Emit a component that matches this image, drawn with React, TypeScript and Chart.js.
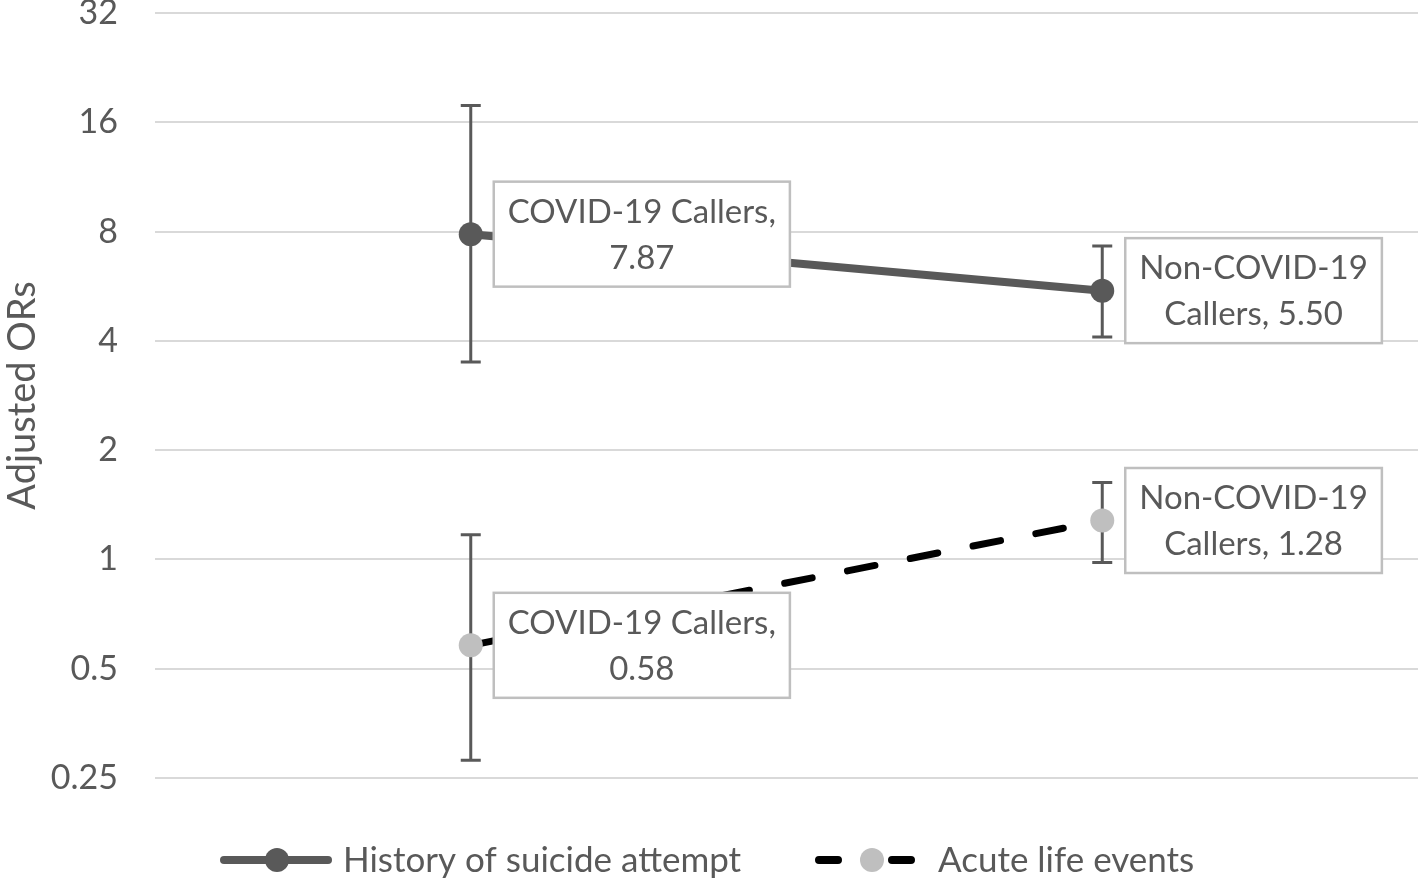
import React, { useEffect, useRef } from 'react';
import { Chart, registerables } from 'chart.js';

Chart.register(...registerables);

const categories = ['COVID-19 Callers', 'Non-COVID-19 Callers'];
const seriesNames = ['History of suicide attempt', 'Acute life events'];
const historyValues = [7.87, 5.5];
const historyLower = [3.5, 4.1];
const historyUpper = [17.8, 7.3];
const acuteValues = [0.58, 1.28];
const acuteLower = [0.28, 0.98];
const acuteUpper = [1.17, 1.63];
const yTicks = [0.25, 0.5, 1, 2, 4, 8, 16, 32];
const yTitle = 'Adjusted ORs';

const FONT = 'Lato, "Open Sans", sans-serif';
const TEXT = '#595959';
const FS_LABEL = 33;
const FS_TICK = 34;
const FS_LEGEND = 35;
const FS_TITLE = 38;

const lowers = [historyLower, acuteLower];
const uppers = [historyUpper, acuteUpper];
const valuesList = [historyValues, acuteValues];

function wrap(ctx: CanvasRenderingContext2D, text: string, maxW: number): string[] {
  const words = text.split(' ');
  const lines: string[] = [];
  let cur = '';
  for (const w of words) {
    const t = cur ? cur + ' ' + w : w;
    if (cur && ctx.measureText(t).width > maxW) {
      lines.push(cur);
      cur = w;
    } else cur = t;
  }
  if (cur) lines.push(cur);
  return lines;
}

const errorBarPlugin = {
  id: 'errorBars',
  beforeDatasetsDraw(chart: any) {
    const ctx = chart.ctx;
    const ys = chart.scales.y;
    ctx.save();
    ctx.strokeStyle = '#595959';
    ctx.lineWidth = 3;
    chart.data.datasets.forEach((_ds: any, di: number) => {
      const meta = chart.getDatasetMeta(di);
      meta.data.forEach((pt: any, i: number) => {
        const x = pt.x;
        const yl = ys.getPixelForValue(lowers[di][i]);
        const yh = ys.getPixelForValue(uppers[di][i]);
        ctx.beginPath();
        ctx.moveTo(x, yl);
        ctx.lineTo(x, yh);
        ctx.moveTo(x - 10, yl);
        ctx.lineTo(x + 10, yl);
        ctx.moveTo(x - 10, yh);
        ctx.lineTo(x + 10, yh);
        ctx.stroke();
      });
    });
    ctx.restore();
  },
};

const labelPlugin = {
  id: 'boxLabels',
  afterDatasetsDraw(chart: any) {
    const ctx = chart.ctx;
    ctx.save();
    ctx.font = `${FS_LABEL}px ${FONT}`;
    chart.data.datasets.forEach((_ds: any, di: number) => {
      const meta = chart.getDatasetMeta(di);
      meta.data.forEach((pt: any, i: number) => {
        const text = `${categories[i]}, ${valuesList[di][i].toFixed(2)}`;
        const lines = wrap(ctx, text, 290);
        const tw = Math.max(...lines.map((l) => ctx.measureText(l).width));
        const lh = 46;
        const w = tw + 28;
        const h = lines.length * lh + 13;
        const left = pt.x + 23;
        const top = pt.y - h / 2;
        ctx.fillStyle = '#ffffff';
        ctx.fillRect(left, top, w, h);
        ctx.strokeStyle = '#BFBFBF';
        ctx.lineWidth = 2.5;
        ctx.strokeRect(left, top, w, h);
        ctx.fillStyle = TEXT;
        ctx.textAlign = 'center';
        ctx.textBaseline = 'middle';
        lines.forEach((l, k) => {
          ctx.fillText(l, left + w / 2, top + 6.5 + lh / 2 + k * lh + 1);
        });
      });
    });
    ctx.restore();
  },
};

const legendPlugin = {
  id: 'customLegend',
  afterDraw(chart: any) {
    const ctx = chart.ctx;
    const y = 860;
    ctx.save();
    ctx.strokeStyle = '#595959';
    ctx.lineWidth = 8;
    ctx.lineCap = 'round';
    ctx.beginPath();
    ctx.moveTo(224, y);
    ctx.lineTo(328, y);
    ctx.stroke();
    ctx.fillStyle = '#595959';
    ctx.beginPath();
    ctx.arc(277, y, 12, 0, Math.PI * 2);
    ctx.fill();
    ctx.strokeStyle = '#000000';
    ctx.beginPath();
    ctx.moveTo(819, y);
    ctx.lineTo(838, y);
    ctx.moveTo(892, y);
    ctx.lineTo(911, y);
    ctx.stroke();
    ctx.fillStyle = '#BFBFBF';
    ctx.beginPath();
    ctx.arc(872, y, 12, 0, Math.PI * 2);
    ctx.fill();
    ctx.font = `${FS_LEGEND}px ${FONT}`;
    ctx.fillStyle = TEXT;
    ctx.textAlign = 'left';
    ctx.textBaseline = 'middle';
    ctx.fillText(seriesNames[0], 343, y + 1);
    ctx.fillText(seriesNames[1], 938, y + 1);
    ctx.restore();
  },
};

export default function App() {
  const ref = useRef<HTMLCanvasElement | null>(null);
  useEffect(() => {
    if (!ref.current) return;
    const chart = new Chart(ref.current, {
      type: 'line',
      data: {
        labels: categories,
        datasets: [
          {
            label: seriesNames[0],
            data: historyValues,
            borderColor: '#595959',
            borderWidth: 8,
            pointRadius: 12,
            pointBackgroundColor: '#595959',
            pointBorderColor: '#595959',
            pointBorderWidth: 0,
            tension: 0,
          },
          {
            label: seriesNames[1],
            data: acuteValues,
            borderColor: '#000000',
            borderWidth: 7,
            borderDash: [28, 36],
            borderCapStyle: 'round',
            pointRadius: 12,
            pointBackgroundColor: '#BFBFBF',
            pointBorderColor: '#BFBFBF',
            pointBorderWidth: 0,
            tension: 0,
          },
        ],
      },
      options: {
        animation: false,
        responsive: false,
        devicePixelRatio: 1,
        layout: { autoPadding: false, padding: { top: 13, right: 0, bottom: 101, left: 0 } },
        plugins: {
          legend: { display: false },
          tooltip: { enabled: false },
        },
        scales: {
          x: {
            type: 'category',
            display: false,
            offset: true,
          },
          y: {
            type: 'logarithmic',
            min: 0.25,
            max: 32,
            afterBuildTicks(scale: any) {
              scale.ticks = yTicks.map((v) => ({ value: v }));
            },
            afterFit(scale: any) {
              scale.width = 155;
              scale.paddingTop = 0;
              scale.paddingBottom = 0;
            },
            ticks: {
              color: TEXT,
              font: { family: FONT, size: FS_TICK },
              padding: 37,
              callback: (v: any) => String(v),
            },
            grid: {
              color: '#D9D9D9',
              lineWidth: 2,
              drawTicks: false,
            },
            border: { display: false },
            title: {
              display: true,
              text: yTitle,
              color: TEXT,
              font: { family: FONT, size: FS_TITLE },
              padding: 0,
            },
          },
        },
      },
      plugins: [errorBarPlugin, labelPlugin, legendPlugin],
    } as any);
    return () => chart.destroy();
  }, []);
  return (
    <div style={{ position: 'absolute', left: 0, top: 0, width: 1418, height: 879, background: '#fff' }}>
      <canvas ref={ref} width={1418} height={879} style={{ display: 'block' }} />
    </div>
  );
}
